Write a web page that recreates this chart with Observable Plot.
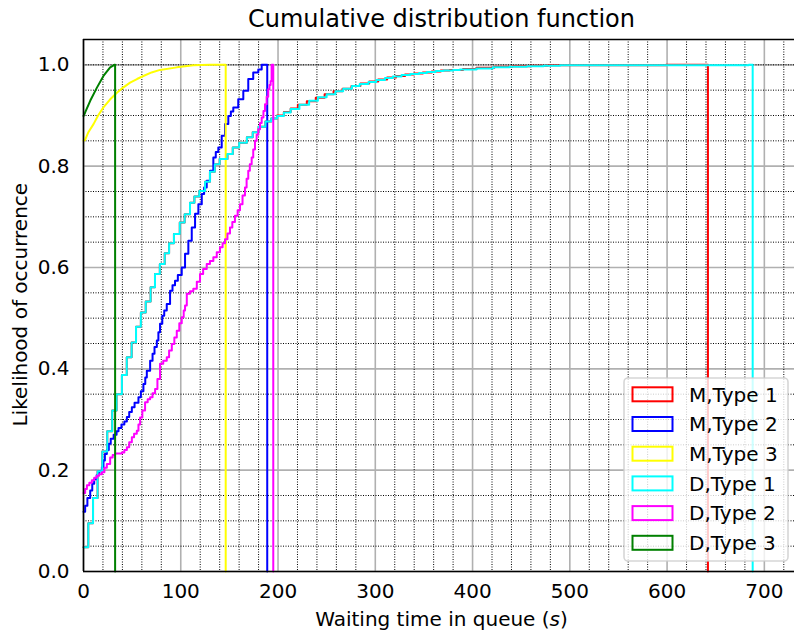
<!DOCTYPE html>
<html>
<head>
<meta charset="utf-8">
<script src="https://cdn.jsdelivr.net/npm/d3@7"></script>
<script src="https://cdn.jsdelivr.net/npm/@observablehq/plot@0.6"></script>
<style>
  body { margin: 0; background: #fff; }
  svg { display: block; }
</style>
</head>
<body>
<div id="chart"></div>
<script>
// Cumulative step curves: [waiting time (s), cumulative fraction]
const mType1 = [[0,0.048],[4.9,0.095],[9.8,0.145],[14.5,0.198],[19.3,0.237],[24.4,0.277],[29.5,0.318],[34,0.35],[39.5,0.388],[44.5,0.423],[49.5,0.452],[54,0.483],[59,0.511],[64,0.533],[69,0.561],[73.5,0.587],[78.5,0.607],[83.5,0.628],[88,0.648],[93,0.666],[99,0.689],[104,0.705],[109.5,0.728],[114,0.74],[119,0.751],[125,0.769],[130,0.789],[135,0.804],[140,0.814],[148,0.824],[153.5,0.837],[160,0.846],[168,0.857],[174,0.867],[180,0.878],[187,0.888],[193,0.894],[199,0.9],[206,0.907],[213,0.914],[220.4,0.921],[229.6,0.928],[238.8,0.935],[247.9,0.942],[257.1,0.948],[266.3,0.953],[275.5,0.958],[284.7,0.963],[293.8,0.967],[303,0.971],[312.2,0.975],[321.4,0.978],[330.6,0.981],[339.8,0.983],[348.9,0.985],[358.1,0.987],[367.3,0.989],[376.5,0.99],[390.2,0.992],[404,0.994],[422.4,0.996],[440.7,0.997],[459.1,0.998],[477.5,0.999],[599,1.0],[642,1.0],[642,0]];

const mType2 = [[0,0.118],[1.7,0.13],[4,0.145],[6.9,0.16],[9,0.173],[11,0.182],[13.5,0.19],[16,0.198],[18.9,0.206],[20.5,0.219],[22,0.232],[24,0.24],[26,0.252],[28,0.262],[31,0.27],[34,0.277],[36,0.283],[39,0.29],[42,0.296],[44.6,0.305],[47,0.315],[49.7,0.324],[52.5,0.333],[56.5,0.344],[59,0.356],[61.6,0.37],[63.5,0.383],[65.1,0.396],[68.5,0.416],[71,0.43],[73,0.443],[75.4,0.456],[77,0.472],[78.7,0.489],[81,0.505],[83,0.515],[85.6,0.528],[89,0.554],[91.5,0.565],[94.1,0.574],[97,0.585],[101,0.6],[104.4,0.627],[107.8,0.653],[111.3,0.679],[114.7,0.706],[118.1,0.725],[121.6,0.745],[124,0.758],[126.7,0.771],[130.1,0.791],[133.5,0.817],[136,0.828],[138.6,0.837],[142.1,0.86],[145.5,0.883],[148.9,0.899],[151.5,0.908],[154,0.916],[159.1,0.932],[164.3,0.949],[169.4,0.972],[174.5,0.985],[179.7,0.991],[183.2,1.0],[188.9,1.0],[188.9,0]];

const mType3 = [[0,0.85],[1.7,0.852],[5,0.867],[10.3,0.883],[15,0.9],[20.5,0.916],[27,0.931],[34.3,0.945],[40,0.954],[47.9,0.965],[55,0.972],[61.6,0.978],[70,0.985],[78.7,0.99],[95.9,0.995],[112.9,0.999],[130.1,1.0],[146.2,1.0],[146.2,0]];

const dType1 = [[0,0.048],[4.9,0.095],[9.8,0.145],[14.5,0.198],[19.3,0.237],[24.4,0.277],[29.5,0.318],[34,0.35],[39.5,0.388],[44.5,0.423],[49.5,0.452],[54,0.483],[59,0.511],[64,0.533],[69,0.561],[73.5,0.587],[78.5,0.607],[83.5,0.628],[88,0.648],[93,0.666],[99,0.689],[104,0.705],[109.5,0.728],[114,0.74],[119,0.751],[125,0.769],[130,0.789],[135,0.804],[140,0.814],[148,0.824],[153.5,0.837],[160,0.846],[168,0.857],[174,0.867],[180,0.878],[187,0.888],[193,0.894],[199,0.899],[206,0.906],[213,0.913],[222,0.921],[232,0.929],[241,0.936],[250,0.942],[259,0.948],[267,0.953],[276,0.958],[284,0.962],[293,0.966],[301,0.97],[310,0.974],[318,0.977],[327,0.98],[336,0.982],[345,0.984],[353,0.986],[362,0.988],[370,0.989],[380,0.99],[387,0.991],[404,0.993],[421,0.995],[438,0.996],[456,0.997],[473,0.998],[490,0.999],[684,1.0],[688,1.0],[688,0]];

const dType2 = [[0,0.155],[1.7,0.163],[3.5,0.17],[6,0.175],[8.6,0.18],[11,0.185],[13.8,0.189],[16,0.192],[18.9,0.196],[21.5,0.205],[24,0.212],[27.4,0.225],[30,0.23],[32.5,0.233],[39.4,0.235],[42,0.24],[44.6,0.245],[47,0.255],[49.7,0.265],[52,0.272],[54.8,0.278],[56.5,0.29],[58.2,0.304],[60.5,0.318],[63.3,0.334],[66,0.34],[68.5,0.344],[71,0.352],[73.6,0.36],[76,0.38],[78.7,0.41],[82,0.416],[85.6,0.423],[88,0.436],[90.8,0.449],[93.4,0.462],[95.9,0.475],[98.5,0.49],[101,0.502],[103,0.515],[104.4,0.525],[106.2,0.548],[109.5,0.553],[112.9,0.558],[116.5,0.572],[119.8,0.587],[123,0.597],[126.7,0.607],[130,0.613],[133.5,0.62],[137,0.63],[140.3,0.64],[143,0.648],[145.5,0.656],[148,0.667],[150.6,0.679],[153,0.69],[155.7,0.702],[158.5,0.713],[160.9,0.725],[163.5,0.742],[166,0.758],[167.7,0.775],[169.4,0.791],[171,0.804],[172.9,0.817],[174.5,0.833],[176.3,0.85],[178,0.862],[179.7,0.873],[181.5,0.885],[183.2,0.896],[185,0.909],[186.6,0.922],[188.3,0.937],[189.9,0.952],[191.2,0.96],[192.4,0.968],[193.4,1.0],[195.1,1.0],[195.1,0]];

const dType3 = [[0,0.899],[1.7,0.906],[6.9,0.929],[13.8,0.955],[20.5,0.978],[27.4,0.995],[31.8,1.0],[32.5,1.0],[32.5,0]];

const seriesNames = ["M,Type 1", "M,Type 2", "M,Type 3", "D,Type 1", "D,Type 2", "D,Type 3"];
const seriesColors = ["#ff0000", "#0000ff", "#ffff00", "#00ffff", "#ff00ff", "#008000"];
const seriesData = [mType1, mType2, mType3, dType1, dType2, dType3];
const seriesCurves = ["step-after", "step-after", "linear", "step-after", "step-after", "linear"];

const xDomain = [0, 731];
const yDomain = [0, 1.05];
const xTicks = [0, 100, 200, 300, 400, 500, 600, 700];
const yTicks = [0, 0.2, 0.4, 0.6, 0.8, 1.0];
const xMinor = [20, 40, 60, 80, 120, 140, 160, 180, 220, 240, 260, 280, 320, 340, 360, 380, 420, 440, 460, 480, 520, 540, 560, 580, 620, 640, 660, 680, 720];
const yMinor = [0.05, 0.1, 0.15, 0.25, 0.3, 0.35, 0.45, 0.5, 0.55, 0.65, 0.7, 0.75, 0.85, 0.9, 0.95, 1.0];

const FONT = "DejaVu Sans";

const svg = Plot.plot({
  width: 794,
  height: 637,
  marginLeft: 83,
  marginRight: 0,
  marginTop: 39,
  marginBottom: 66,
  style: { fontFamily: FONT, fontSize: "20px", color: "black", background: "white", overflow: "visible" },
  x: { domain: xDomain },
  y: { domain: yDomain },
  marks: [
    // grid
    Plot.ruleX(xTicks, { stroke: "#b0b0b0", strokeWidth: 1.6 }),
    Plot.ruleY(yTicks, { stroke: "#b0b0b0", strokeWidth: 1.6 }),
    Plot.ruleX(xMinor, { stroke: "#000", strokeWidth: 1, strokeDasharray: "1,1.5" }),
    Plot.ruleY(yMinor, { stroke: "#000", strokeWidth: 1, strokeDasharray: "1,1.5" }),
    // cumulative curves
    ...seriesData.map((data, i) =>
      Plot.line(data, {
        x: d => d[0],
        y: d => d[1],
        stroke: seriesColors[i],
        strokeWidth: 2,
        curve: seriesCurves[i]
      })
    ),
    // spines
    Plot.ruleX([xDomain[0]], { stroke: "black", strokeWidth: 1.6 }),
    Plot.ruleY(yDomain, { stroke: "black", strokeWidth: 1.6 }),
    Plot.axisX({ ticks: xTicks, tickSize: 0, tickPadding: 12, label: null, fontSize: 20 }),
    Plot.axisY({ ticks: yTicks, tickSize: 0, tickPadding: 14, tickFormat: d3.format(".1f"), label: null, fontSize: 20 })
  ]
});

const root = d3.select(svg);

// title
root.append("text")
  .attr("x", 441.5).attr("y", 27)
  .attr("text-anchor", "middle")
  .attr("font-family", FONT).attr("font-size", 24)
  .attr("fill", "black")
  .text("Cumulative distribution function");

// x axis label with italic unit
const xl = root.append("text")
  .attr("x", 441.5).attr("y", 626)
  .attr("text-anchor", "middle")
  .attr("font-family", FONT).attr("font-size", 20)
  .attr("fill", "black");
xl.append("tspan").text("Waiting time in queue (");
xl.append("tspan").attr("font-style", "italic").text("s");
xl.append("tspan").text(")");

// y axis label
root.append("text")
  .attr("transform", "translate(27,304.7) rotate(-90)")
  .attr("text-anchor", "middle")
  .attr("font-family", FONT).attr("font-size", 20)
  .attr("fill", "black")
  .text("Likelihood of occurrence");

// legend
const lg = root.append("g");
lg.append("rect")
  .attr("x", 624).attr("y", 378).attr("width", 164).attr("height", 183)
  .attr("rx", 4)
  .attr("fill", "white").attr("fill-opacity", 0.8)
  .attr("stroke", "#cccccc").attr("stroke-opacity", 0.8).attr("stroke-width", 1.6);
seriesNames.forEach((name, i) => {
  const cy = 394.3 + 29.7 * i;
  lg.append("rect")
    .attr("x", 632.5).attr("y", cy - 7).attr("width", 40).attr("height", 14)
    .attr("fill", "none").attr("stroke", seriesColors[i]).attr("stroke-width", 2);
  lg.append("text")
    .attr("x", 689).attr("y", cy + 7.3)
    .attr("text-anchor", "start")
    .attr("font-family", FONT).attr("font-size", 20)
    .attr("fill", "black")
    .text(name);
});

document.getElementById("chart").appendChild(svg);
</script>
</body>
</html>
